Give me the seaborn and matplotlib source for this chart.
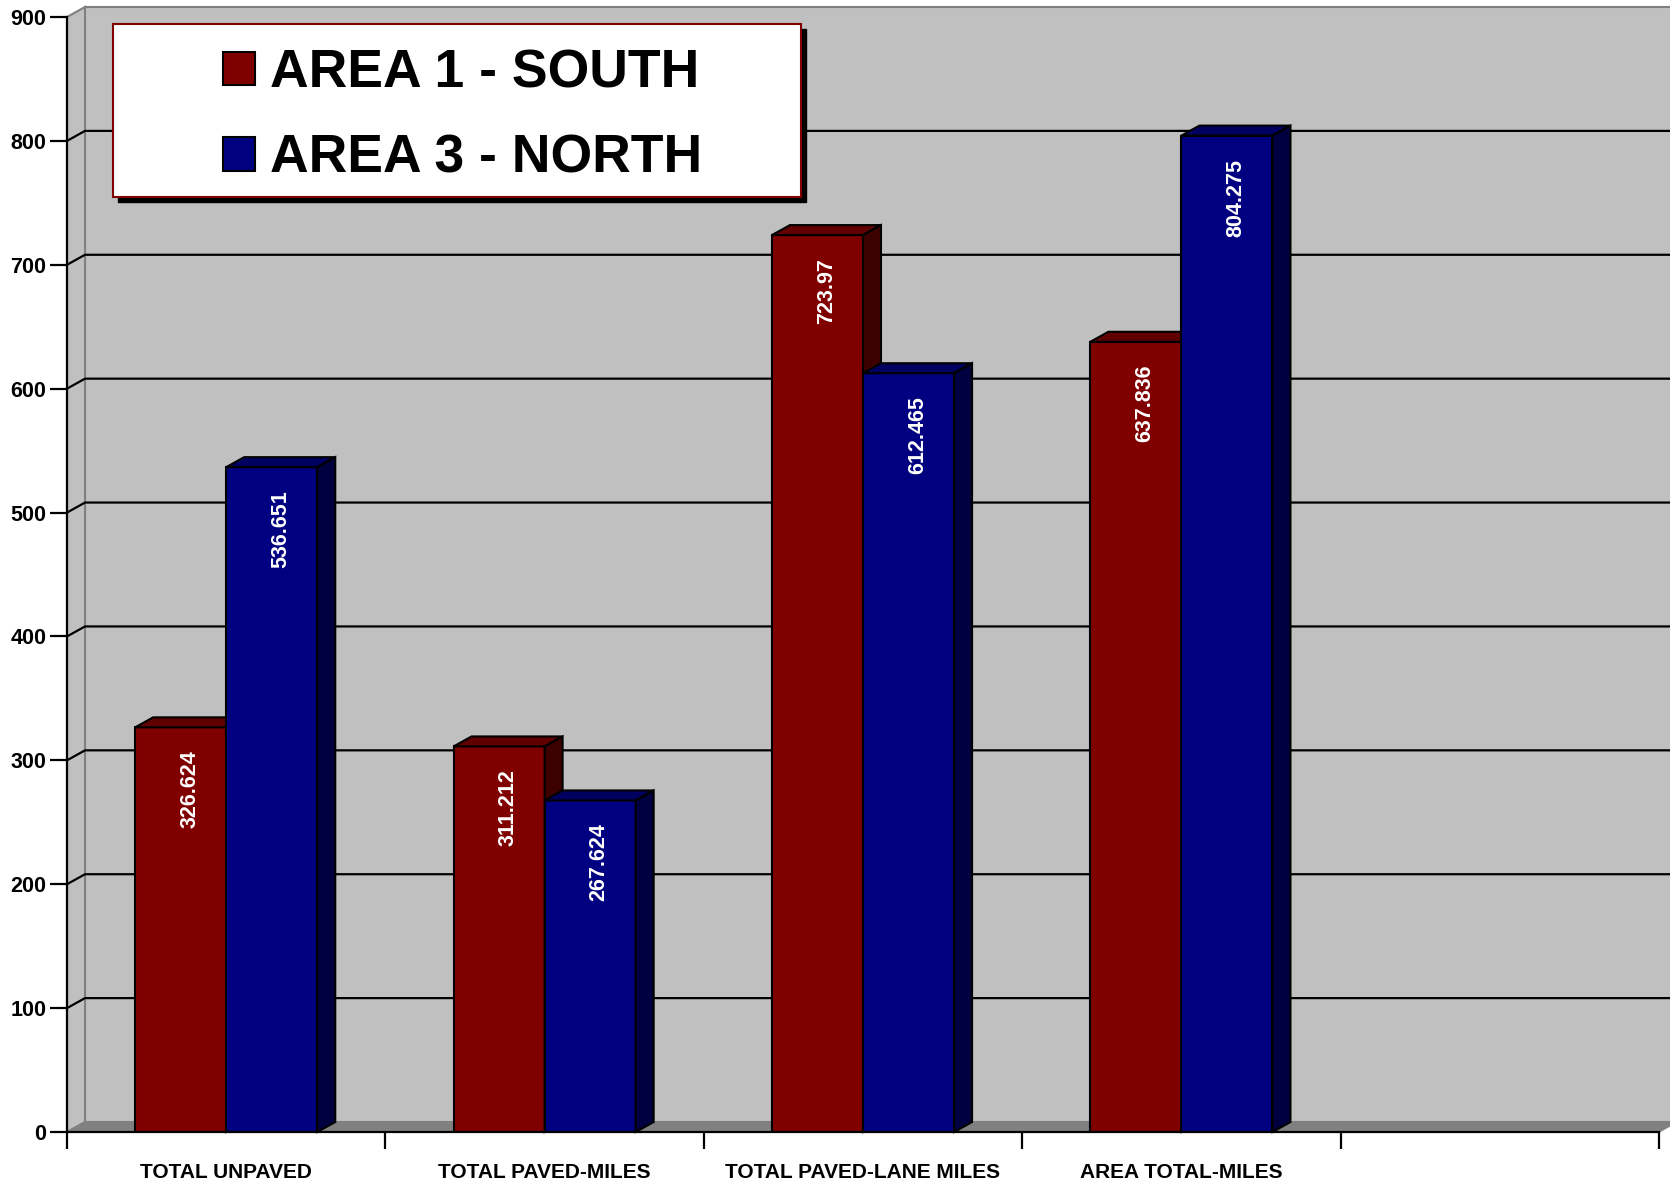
import numpy as np
import pandas as pd
import matplotlib
matplotlib.use("Agg")
import matplotlib.pyplot as plt
from matplotlib.patches import Polygon, Rectangle
from matplotlib.lines import Line2D
from matplotlib.font_manager import FontProperties
import seaborn as sns

# ---- data -------------------------------------------------------------
categories = ["TOTAL UNPAVED", "TOTAL PAVED-MILES", "TOTAL PAVED-LANE MILES", "AREA TOTAL-MILES"]
areas = ["AREA 1 - SOUTH", "AREA 3 - NORTH"]
south_miles = [326.624, 311.212, 723.97, 637.836]
north_miles = [536.651, 267.624, 612.465, 804.275]
y_ticks = [0, 100, 200, 300, 400, 500, 600, 700, 800, 900]

df = pd.DataFrame({
    "category": categories * 2,
    "area": [areas[0]] * len(categories) + [areas[1]] * len(categories),
    "miles": south_miles + north_miles,
})

# ---- style ------------------------------------------------------------
sns.set_theme(style="white")
plt.rcParams["font.family"] = ["Liberation Sans", "DejaVu Sans"]
plt.rcParams["font.weight"] = "bold"
plt.rcParams["text.color"] = "black"
plt.rcParams["xtick.color"] = "black"
plt.rcParams["ytick.color"] = "black"
plt.rcParams["xtick.labelcolor"] = "black"
plt.rcParams["ytick.labelcolor"] = "black"

FRONT = {"AREA 1 - SOUTH": "#800000", "AREA 3 - NORTH": "#000080"}
TOP = {"AREA 1 - SOUTH": "#600000", "AREA 3 - NORTH": "#000060"}
SIDE = {"AREA 1 - SOUTH": "#3c0000", "AREA 3 - NORTH": "#000040"}
WALL = "#c0c0c0"
FLOOR = "#808080"
DEPTH_PX = (18, 10)   # 3-D depth offset in pixels

W, H, DPI = 1670, 1183, 100
fig = plt.figure(figsize=(W / DPI, H / DPI), dpi=DPI)
fig.patch.set_facecolor("white")
ax = fig.add_axes([67 / W, 1 - 1132 / H, 1592 / W, 1115 / H])
ax.set_facecolor("none")

sns.barplot(data=df, x="category", y="miles", hue="area", hue_order=areas,
            order=categories, palette=[FRONT[a] for a in areas], saturation=1,
            width=0.572, errorbar=None, edgecolor="black", linewidth=1.5, ax=ax)

ax.set_xlim(-0.5, 4.5)
ax.set_ylim(0, 900)

# depth offset in data units
o = ax.transData.transform((0, 0))
dxd, dyd = ax.transData.inverted().transform(o + np.array(DEPTH_PX))
x0, x1 = ax.get_xlim()

# walls and floor
ax.add_patch(Rectangle((x0 + dxd, dyd), (x1 - x0) + 2 * dxd, 900, facecolor=WALL,
                       edgecolor=FLOOR, linewidth=1.5, zorder=0, clip_on=False))
ax.add_patch(Polygon([(x0, 0), (x0, 900), (x0 + dxd, 900 + dyd), (x0 + dxd, dyd)],
                     closed=True, facecolor=WALL, edgecolor=FLOOR, linewidth=1.5,
                     zorder=0.5, clip_on=False))
ax.add_patch(Polygon([(x0, 0), (x1, 0), (x1 + dxd, dyd), (x0 + dxd, dyd)],
                     closed=True, facecolor=FLOOR, edgecolor=FLOOR, linewidth=1,
                     zorder=0.6, clip_on=False))
for v in y_ticks[1:-1]:
    ax.add_line(Line2D([x0, x0 + dxd, x1 + 2 * dxd], [v, v + dyd, v + dyd],
                       color="black", linewidth=1.6, zorder=0.8, clip_on=False))

# 3-D faces of the bars and value labels
for level, container in zip(areas, ax.containers):
    z = 3 if level == areas[0] else 4
    for bar in container:
        bx, bw, bh = bar.get_x(), bar.get_width(), bar.get_height()
        bar.set_zorder(z)
        ax.add_patch(Polygon([(bx, bh), (bx + bw, bh), (bx + bw + dxd, bh + dyd), (bx + dxd, bh + dyd)],
                             closed=True, facecolor=TOP[level], edgecolor="black",
                             linewidth=1.5, zorder=z, clip_on=False))
        ax.add_patch(Polygon([(bx + bw, 0), (bx + bw, bh), (bx + bw + dxd, bh + dyd), (bx + bw + dxd, dyd)],
                             closed=True, facecolor=SIDE[level], edgecolor="black",
                             linewidth=1.5, zorder=z, clip_on=False))
        label = f"{bh:g}"
        ax.annotate(label, (bx + bw / 2, bh), xytext=(DEPTH_PX[0] / 2, -23),
                    textcoords="offset pixels", rotation=90, ha="center", va="top",
                    color="white", fontsize=15.5, fontweight="bold", zorder=6)

# axes
for side in ("top", "right"):
    ax.spines[side].set_visible(False)
for side in ("left", "bottom"):
    ax.spines[side].set_color("black")
    ax.spines[side].set_linewidth(1.6)
    ax.spines[side].set_zorder(5)

ax.set_yticks(y_ticks)
ax.set_yticklabels([str(t) for t in y_ticks], fontsize=15.5, fontweight="bold", color="black")
ax.tick_params(axis="y", length=12, width=1.6, color="black", pad=3, direction="out", left=True)
ax.set_xticks(range(len(categories)))
ax.set_xticklabels(categories, fontsize=15, fontweight="bold", color="black")
ax.set_xticks(np.arange(-0.5, 5.0, 1.0), minor=True)
ax.tick_params(axis="x", which="major", length=0, pad=22)
ax.tick_params(axis="x", which="minor", length=12, width=1.6, color="black", direction="out", bottom=True)
ax.set_xlabel("")
ax.set_ylabel("")
ax.grid(False)

# legend box with drop shadow
old = ax.get_legend()
handles = list(old.legend_handles)
labels = [t.get_text() for t in old.texts]
old.remove()
for h in handles:
    h.set_edgecolor("black")
    h.set_linewidth(1.5)

bx0, by_top, bw_, bh_ = 113, 24, 688, 173
fig.add_artist(Rectangle(((bx0 + 5) / W, 1 - (by_top + bh_ + 5) / H), bw_ / W, bh_ / H,
                         transform=fig.transFigure, facecolor="black", edgecolor="black", zorder=7))
fig.add_artist(Rectangle((bx0 / W, 1 - (by_top + bh_) / H), bw_ / W, bh_ / H,
                         transform=fig.transFigure, facecolor="white", edgecolor="#800000",
                         linewidth=1.5, zorder=8))
leg = fig.legend(handles, labels, loc="center left",
                 bbox_to_anchor=(223 / W, 1 - 116 / H), bbox_transform=fig.transFigure,
                 frameon=False, borderpad=0, borderaxespad=0,
                 handlelength=0.6, handleheight=0.6, handletextpad=0.27,
                 labelspacing=0.66, labelcolor="black",
                 prop=FontProperties(family="Liberation Sans", weight="bold", size=38.5))
leg.set_zorder(9)

fig.savefig("out.png", dpi=DPI)
